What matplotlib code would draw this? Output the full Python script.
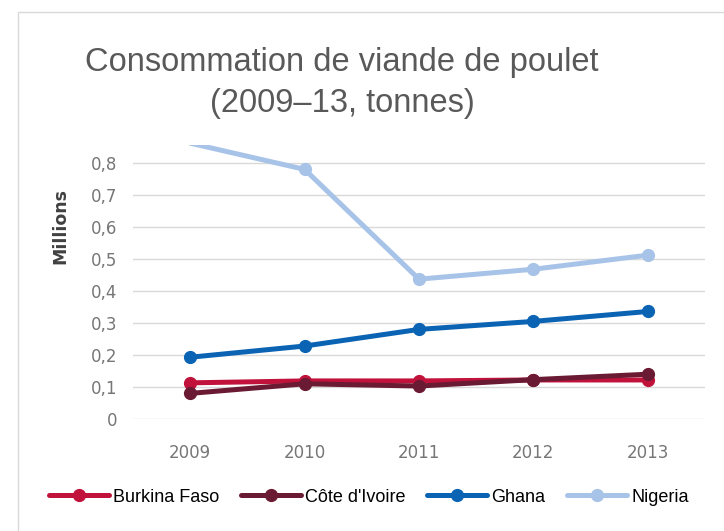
import matplotlib
matplotlib.use("Agg")
import matplotlib.pyplot as plt
from matplotlib.patches import Rectangle
from matplotlib.ticker import FuncFormatter

years = ["2009", "2010", "2011", "2012", "2013"]
burkina = [0.113, 0.119, 0.119, 0.122, 0.122]
cote_ivoire = [0.080, 0.110, 0.103, 0.123, 0.140]
ghana = [0.193, 0.228, 0.280, 0.305, 0.336]
nigeria = [0.862, 0.78, 0.437, 0.468, 0.512]

series = [
    ("Burkina Faso", burkina, "#C1123B"),
    ("Côte d'Ivoire", cote_ivoire, "#6A1A33"),
    ("Ghana", ghana, "#0B63B3"),
    ("Nigeria", nigeria, "#A8C3E8"),
]
y_top = 0.855

fig = plt.figure(figsize=(7.24, 5.31), dpi=100)
fig.patch.set_facecolor("white")

# light chart border
fig.patches.append(Rectangle((18 / 724, -0.1), 1.1, 1 - 12 / 531 + 0.1,
                             transform=fig.transFigure, fill=False,
                             edgecolor="#D9D9D9", linewidth=1))

ax = fig.add_axes([133 / 724, 1 - 419 / 531, 572 / 724, 0.855 * 320 / 531])
x = list(range(len(years)))
for name, vals, color in series:
    # points beyond the axis range get no marker, only the clipped line
    shown = [i for i, v in enumerate(vals) if v <= y_top]
    ax.plot(x, vals, color=color, linewidth=3.6, marker="o", markersize=8.5,
            markevery=shown, label=name, solid_capstyle="round")

ax.set_xlim(-0.5, 4.5)
ax.set_ylim(0, y_top)
ax.set_yticks([i / 10 for i in range(9)])
ax.yaxis.set_major_formatter(FuncFormatter(
    lambda v, p: "0" if v == 0 else f"{v:.1f}".replace(".", ",")))
ax.set_xticks(x)
ax.set_xticklabels(years)
ax.tick_params(length=0, labelsize=12, colors="#767676", pad=18)
ax.tick_params(axis="y", pad=11)
ax.grid(axis="y", color="#D9D9D9", linewidth=1)
ax.set_axisbelow(True)
for s in ax.spines.values():
    s.set_visible(False)

fig.text(60 / 724, 1 - 226 / 531, "Millions", rotation=90, ha="center",
         va="center", fontsize=12.5, fontweight="bold", color="#404040")

fig.text(342 / 724, 1 - 83 / 531,
         "Consommation de viande de poulet\n(2009\u201313, tonnes)",
         ha="center", va="center", fontsize=23.5, color="#595959",
         linespacing=1.38, family="Liberation Sans")

fig.legend(loc="center", bbox_to_anchor=(369 / 724, 1 - 497 / 531), ncol=4,
           frameon=False, handlelength=3.3, columnspacing=1.2,
           handletextpad=0.25, prop={"family": "Liberation Sans", "size": 13})

fig.savefig("out.png", dpi=100)
